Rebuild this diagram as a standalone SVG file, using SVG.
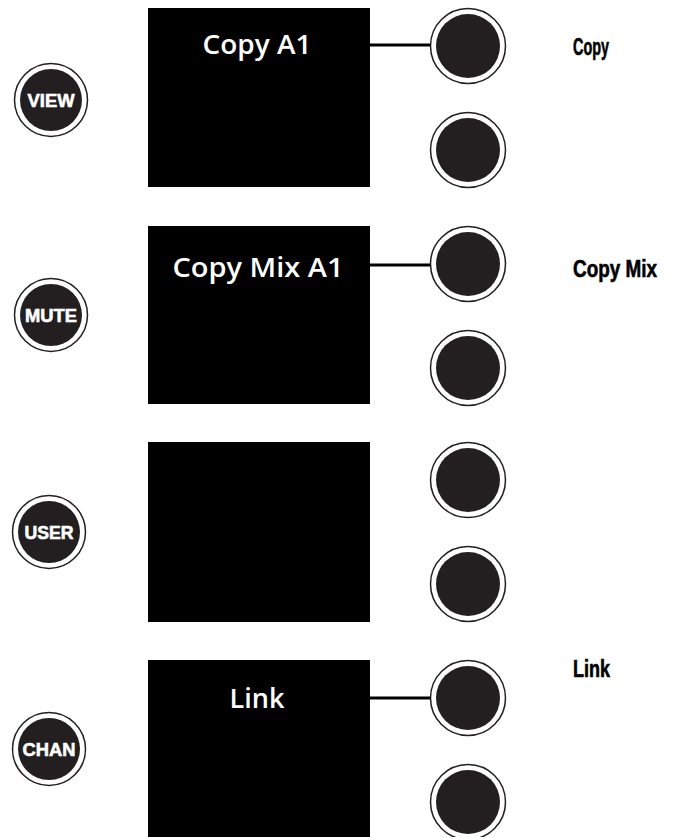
<svg xmlns="http://www.w3.org/2000/svg" width="674" height="837" viewBox="0 0 674 837">
<style>
.scr{fill:#000}
.ring{fill:#fff;stroke:#231f20;stroke-width:1.5}
.knob{fill:#231f20}
.btxt{font-family:"Liberation Sans",Arial,sans-serif;font-weight:bold;font-size:18.5px;fill:#fff;stroke:#fff;stroke-width:0.6;text-anchor:middle}
.stxt{font-family:"Open Sans","Noto Sans",sans-serif;font-weight:600;font-size:27px;fill:#fff;text-anchor:middle}
.ltxt{font-family:"Liberation Sans Narrow","Liberation Sans",sans-serif;font-weight:bold;font-size:19.5px;fill:#000;stroke:#000;stroke-width:0.5}
.con{stroke:#000;stroke-width:3;fill:none}
</style>
<defs>
<g id="knobsym"><circle class="ring" r="37.5"/><circle class="knob" r="32"/></g>
<g id="btnsym"><circle class="ring" r="36.5"/><circle class="knob" r="31"/></g>
</defs>
<g id="connectors">
<line class="con" x1="369" y1="45" x2="434" y2="45"/>
<line class="con" x1="369" y1="265" x2="434" y2="265"/>
<line class="con" x1="369" y1="698" x2="434" y2="698"/>
</g>
<g id="btn-view"><use href="#btnsym" x="51" y="100"/><text class="btxt" x="51" y="106.5" textLength="47" lengthAdjust="spacingAndGlyphs">VIEW</text></g>
<g id="btn-mute"><use href="#btnsym" x="51" y="315"/><text class="btxt" x="51" y="321.5" textLength="52" lengthAdjust="spacingAndGlyphs">MUTE</text></g>
<g id="btn-user"><use href="#btnsym" x="49" y="532"/><text class="btxt" x="49" y="538.5" textLength="49" lengthAdjust="spacingAndGlyphs">USER</text></g>
<g id="btn-chan"><use href="#btnsym" x="49" y="749"/><text class="btxt" x="49" y="755.5" textLength="53" lengthAdjust="spacingAndGlyphs">CHAN</text></g>
<g id="screen1"><rect class="scr" x="148" y="8" width="222" height="179"/><text class="stxt" x="257" y="54" textLength="109" lengthAdjust="spacingAndGlyphs">Copy A1</text></g>
<g id="screen2"><rect class="scr" x="148" y="226" width="222" height="178"/><text class="stxt" x="258" y="277" textLength="171" lengthAdjust="spacingAndGlyphs">Copy Mix A1</text></g>
<g id="screen3"><rect class="scr" x="148" y="442" width="222" height="180"/></g>
<g id="screen4"><rect class="scr" x="148" y="660" width="222" height="190"/><text class="stxt" x="257" y="708" textLength="55" lengthAdjust="spacingAndGlyphs">Link</text></g>
<g id="knob1"><use href="#knobsym" x="468" y="46"/></g>
<g id="knob2"><use href="#knobsym" x="468" y="150"/></g>
<g id="knob3"><use href="#knobsym" x="468" y="264"/></g>
<g id="knob4"><use href="#knobsym" x="468" y="368"/></g>
<g id="knob5"><use href="#knobsym" x="468" y="480"/></g>
<g id="knob6"><use href="#knobsym" x="468" y="584"/></g>
<g id="knob7"><use href="#knobsym" x="468" y="698"/></g>
<g id="knob8"><use href="#knobsym" x="468" y="802"/></g>
<g id="label-copy"><text class="ltxt" transform="translate(573,55) scale(1,1.22)" textLength="36" lengthAdjust="spacingAndGlyphs">Copy</text></g>
<g id="label-copymix"><text class="ltxt" transform="translate(573,277) scale(1,1.22)" textLength="84" lengthAdjust="spacingAndGlyphs">Copy Mix</text></g>
<g id="label-link"><text class="ltxt" transform="translate(573,677) scale(1,1.22)" textLength="37" lengthAdjust="spacingAndGlyphs">Link</text></g>
</svg>
